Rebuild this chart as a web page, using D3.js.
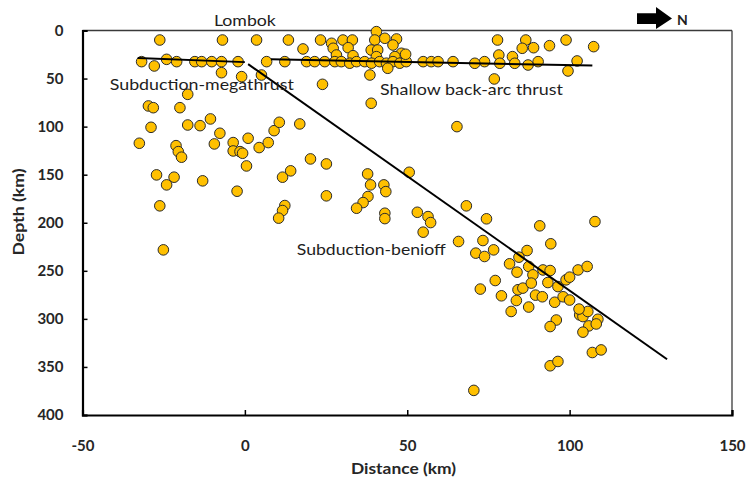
<!DOCTYPE html>
<html><head><meta charset="utf-8">
<script src="https://cdn.jsdelivr.net/npm/d3@7"></script>
<style>
html,body{margin:0;padding:0;background:#fff;}
svg{display:block;}
text{font-family:Lato,"Open Sans",sans-serif;}
</style></head>
<body>
<svg id="chart" width="746" height="481"></svg>
<script>
// ---- data ----
const xTicks = [-50, 0, 50, 100, 150];
const yTicks = [0, 50, 100, 150, 200, 250, 300, 350, 400];
const distance = [
-26.2,-6.9,3.6,13.4,17.9,23.3,
-31.8,-24.1,-21.0,-15.4,-13.3,-10.2,-7.2,-2.1,6.7,12.3,19.0,21.5,24.6,
-27.9,-7.2,-1.0,5.1,23.9,38.5,38.9,
-17.6,-29.7,-28.2,-20,-28.9,-17.6,-13.8,-10.6,-7.7,-32.5,-21.2,-20.5,-19.5,-9.4,-3.6,-3.6,-1.5,-0.7,1.0,0.5,4.4,7.2,9.0,10.6,16.9,20.2,25.1,-27.2,-24.1,-21.8,-13,-2.4,11.6,14.1,-26.2,25.1,12.3,11.6,10.4,37.8,38.7,37.9,36.4,34.4,-25.1,
65.3,42.8,43.4,50.6,43.1,43.1,53.1,56.4,57.2,54.9,68.2,74.4,65.8,73.3,71.1,73.8,72.5,
76.6,90.8,107.8,94.2,86.9,84.4,81.5,83.8,77.1,79,82,87.4,83.6,84.1,85.6,87.4,88.7,88.2,89.5,91.6,91.8,94,93.3,95.4,96.4,98,100,98.9,100,102.6,105.4,95.9,94,103.1,104.1,105.9,104.1,108.7,108.2,107,109.7,94,96.4,70.5,105.6,102.9,
26.7,27.2,30.2,33.1,31.8,28.2,33.3,40.5,40,43.1,46.7,45.6,38.9,40.9,48.2,40.5,46.2,
27.7,29.7,32.3,34.4,36.9,39,41.5,43.6,45.6,47.7,49.7,54.9,57.4,59.5,
49.5,77.8,86.5,85.4,88.9,93.8,98.9,107.4,78.2,82.4,102.3,99.5,76.8,90.3,87.2,83.1,78.5,73.8,70.8,64.1,44
];
const depth = [
9.9,9.9,9.9,9.9,19.2,9.9,
32.4,30,32.4,32.4,32.4,32.4,32.4,32.4,32.4,32.4,32.4,32.4,32.4,
36.9,43.9,48,46.3,56,46.3,75.7,
66.4,78.5,80.3,80.3,100.7,98.3,99,92,106.9,117.3,119.8,126,131.8,118,116.6,125.3,126,127.7,112.1,140.9,121.8,116.6,104.2,95.5,97.2,133.6,138.8,150.2,160.6,152.6,156.4,167.2,152.6,146,182.4,172,182.1,187.3,195.2,149.2,160.6,172.7,179,184.9,228.2,
100,160.6,167.6,147.5,190.1,195.7,189.1,193.6,199.8,209.8,182.4,195.9,219.5,218.5,231.6,235.1,269,
228.2,203.2,198.8,221.9,228.9,235.8,242.7,251.4,260.1,276,292.3,287.7,280.9,269.7,268,245.5,254.2,262.8,275.3,277,249.1,249.7,262.2,282.7,266.4,277,280.4,259.4,256.6,249.1,245.5,301.2,308,295.9,297.6,307.3,313.8,300.4,305.3,335,332.3,348.8,344.3,374.4,292.3,289.8,
13.3,18.5,9.9,9.9,17.9,25.5,26.2,1.2,9.9,8.1,8.8,15.1,20.3,20.3,23.7,27.2,27.2,
32.4,32.4,34,32.4,32.4,34,32.4,34,32.4,34,32.4,32.4,32.4,32.4,
24.7,9.9,9.9,18.5,17.9,15.8,9.9,16.8,25.5,27.2,31.7,42.1,50.4,32.4,35.9,34.1,34.1,32.4,34.1,32.4,39.3
];
// fitted trend lines [distance, depth]
const megathrustLine = [[-33, 28.6], [0, 32.9]];
const backArcLine = [[8, 30], [107, 36.5]];
const benioffLine = [[1, 35], [130, 342]];
const labels = [
  {text: "Lombok", x: 0, d: -4.5, anchor: "middle", len: 62},
  {text: "Subduction-megathrust", x: -41.6, d: 61.5, anchor: "start", len: 184},
  {text: "Shallow back-arc thrust", x: 41.6, d: 67, anchor: "start", len: 183},
  {text: "Subduction-benioff", x: 16, d: 233.5, anchor: "start", len: 149}
];

// ---- chart ----
const svg = d3.select("#chart");
const x = d3.scaleLinear().domain([-50, 150]).range([82.5, 732]);
const y = d3.scaleLinear().domain([0, 400]).range([30.5, 415]);

// frame: top & right thin
svg.append("line").attr("x1", 82.5).attr("x2", 732).attr("y1", 30.5).attr("y2", 30.5)
  .attr("stroke", "#3a3a3a").attr("stroke-width", 1.3);
svg.append("line").attr("x1", 732).attr("x2", 732).attr("y1", 30.5).attr("y2", 415)
  .attr("stroke", "#3a3a3a").attr("stroke-width", 1.3);

// axes
const gx = svg.append("g").attr("transform", "translate(0,415)")
  .call(d3.axisBottom(x).tickValues(xTicks).tickSize(-5).tickPadding(25).tickFormat(d3.format("d")));
const gy = svg.append("g").attr("transform", "translate(82.5,0)")
  .call(d3.axisLeft(y).tickValues(yTicks).tickSize(-5).tickPadding(19).tickFormat(d3.format("d")));
[gx, gy].forEach(g => {
  g.select(".domain").attr("stroke", "#000").attr("stroke-width", 2.2);
  g.selectAll(".tick line").attr("stroke", "#000").attr("stroke-width", 1.5);
  g.selectAll(".tick text").attr("fill", "#262626").style("font-size", "15px").style("font-weight", "bold")
    .style("font-family", "Lato, sans-serif");
});
gx.selectAll(".tick text").text(d => d < 0 ? "-" + Math.abs(d) : d);

// axis titles
svg.append("text").attr("x", 403.5).attr("y", 474).attr("text-anchor", "middle")
  .attr("fill", "#262626").style("font-size", "15px").style("font-weight", "bold")
  .attr("textLength", 105).attr("lengthAdjust", "spacingAndGlyphs").text("Distance (km)");
svg.append("text").attr("transform", "translate(24,212) rotate(-90)").attr("text-anchor", "middle")
  .attr("fill", "#262626").style("font-size", "15px").style("font-weight", "bold")
  .attr("textLength", 87).attr("lengthAdjust", "spacingAndGlyphs").text("Depth (km)");

// points
const pts = distance.map((d, i) => [d, depth[i]]);
svg.append("g").selectAll("circle").data(pts).join("circle")
  .attr("cx", d => x(d[0])).attr("cy", d => y(d[1])).attr("r", 5.3)
  .attr("fill", "#FFC000").attr("stroke", "#2b2b2b").attr("stroke-width", 1);

// trend lines
const line = d3.line().x(d => x(d[0])).y(d => y(d[1]));
[megathrustLine, backArcLine, benioffLine].forEach(l => {
  svg.append("path").attr("d", line(l)).attr("fill", "none").attr("stroke", "#000").attr("stroke-width", 2);
});

// labels
labels.forEach(l => {
  svg.append("text").attr("x", x(l.x)).attr("y", y(l.d)).attr("text-anchor", l.anchor)
    .attr("fill", "#1e1e1e").style("font-size", "15px")
    .attr("textLength", l.len).attr("lengthAdjust", "spacingAndGlyphs").text(l.text);
});

// north arrow
svg.append("path").attr("d", "M637,13.3 L656,13.3 L656,7 L672,18.5 L656,29 L656,24 L637,24 Z").attr("fill", "#000");
svg.append("text").attr("x", 677).attr("y", 25).attr("fill", "#1e1e1e")
  .style("font-size", "14px").style("font-weight", "bold").text("N");
</script>
</body></html>
